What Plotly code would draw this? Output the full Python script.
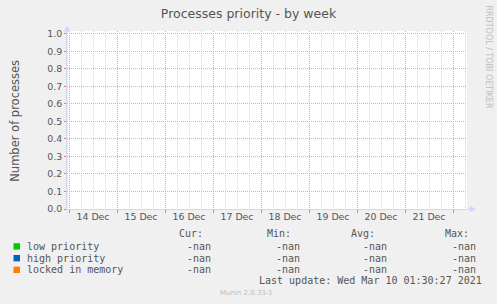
import plotly.graph_objects as go
import pandas as pd

# ---- data (all series are empty: -nan) ----
times = ["2020-12-14 00:00", "2020-12-15 00:00", "2020-12-16 00:00", "2020-12-17 00:00",
         "2020-12-18 00:00", "2020-12-19 00:00", "2020-12-20 00:00", "2020-12-21 00:00"]
low_priority = [None, None, None, None, None, None, None, None]
high_priority = [None, None, None, None, None, None, None, None]
locked_in_memory = [None, None, None, None, None, None, None, None]
series_names = ["low priority", "high priority", "locked in memory"]
series_colors = ["#00cc00", "#0066b3", "#ff8000"]
series_values = [low_priority, high_priority, locked_in_memory]
stats_cur = ["-nan", "-nan", "-nan"]
stats_min = ["-nan", "-nan", "-nan"]
stats_avg = ["-nan", "-nan", "-nan"]
stats_max = ["-nan", "-nan", "-nan"]
day_labels = ["14 Dec", "15 Dec", "16 Dec", "17 Dec", "18 Dec", "19 Dec", "20 Dec", "21 Dec"]
x_range = ["2020-12-13 23:00", "2020-12-22 07:00"]
y_range = [0, 1.016]
title = "Processes priority - by week"
y_title = "Number of processes"
last_update = "Last update: Wed Mar 10 01:30:27 2021"

W, H = 497, 304
L, R, T, B = 67, 30, 30.5, 95
PW, PH = W - L - R, H - T - B


def px(x):
    return (x - L) / PW


def py(y):
    return 1 - (y - T) / PH


TXT = "#555555"
SANS = "DejaVu Sans"
MONO = "DejaVu Sans Mono"
MGRID = "#ff9c9c"
GRID = "#d4d4d4"
AXIS = "#cfd6f8"

days = pd.to_datetime(times + ["2020-12-22 00:00"])
major_vals = [d.strftime("%Y-%m-%d %H:%M") for d in days]
minor_vals = [(d + pd.Timedelta(hours=h)).strftime("%Y-%m-%d %H:%M")
              for d in pd.to_datetime(["2020-12-13"]).append(days) for h in (6, 12, 18)]
label_vals = [(d + pd.Timedelta(hours=12)).strftime("%Y-%m-%d %H:%M") for d in pd.to_datetime(times)]

fig = go.Figure()
for name, col, vals in zip(series_names, series_colors, series_values):
    fig.add_trace(go.Scatter(x=times, y=vals, name=name, mode="lines",
                             line=dict(color=col, width=1), showlegend=False))
# invisible trace bound to the label axis
fig.add_trace(go.Scatter(x=times, y=low_priority, xaxis="x2", mode="lines",
                         showlegend=False, hoverinfo="skip"))

fig.update_layout(
    width=W, height=H,
    margin=dict(l=L, r=R, t=T, b=B, pad=0),
    paper_bgcolor="#f0f0f0", plot_bgcolor="#ffffff",
    showlegend=False,
    title=dict(text=title, x=0.5, xref="container", xanchor="center",
               y=1 - 14 / H, yref="container", yanchor="middle",
               font=dict(family=SANS, size=12.5, color=TXT)),
    xaxis=dict(
        type="date", range=x_range,
        tickmode="array", tickvals=major_vals, showticklabels=False,
        showgrid=True, gridcolor=MGRID, griddash="1px,1px", gridwidth=1,
        minor=dict(tickmode="array", tickvals=minor_vals, showgrid=True,
                   gridcolor=GRID, griddash="1px,1px", gridwidth=1),
        ticks="outside", ticklen=3, tickcolor="#ff7070", tickwidth=1,
        showline=True, linecolor=AXIS, linewidth=1, zeroline=False,
    ),
    xaxis2=dict(
        type="date", range=x_range, overlaying="x", anchor="y", side="bottom",
        tickmode="array", tickvals=label_vals, ticktext=day_labels,
        showgrid=False, ticks="", showline=False, zeroline=False,
        ticklabelstandoff=1,
        tickfont=dict(family=SANS, size=9.4, color=TXT),
    ),
    yaxis=dict(
        range=y_range, dtick=0.1, tick0=0, tickformat=".1f",
        showgrid=True, gridcolor=MGRID, griddash="1px,1px", gridwidth=1,
        ticks="outside", ticklen=2, tickcolor="#ff7070", tickwidth=1,
        showline=True, linecolor=AXIS, linewidth=1, zeroline=False,
        tickfont=dict(family=SANS, size=9.4, color=TXT),
    ),
)

# axis arrows
shapes = []
shapes.append(dict(type="path", xref="paper", yref="paper",
                   path=f"M {px(64)} {py(31)} L {px(70)} {py(31)} L {px(67)} {py(25)} Z",
                   fillcolor=AXIS, line=dict(width=0)))
shapes.append(dict(type="line", xref="paper", yref="paper",
                   x0=px(67), x1=px(67), y0=py(31), y1=py(209), line=dict(color=AXIS, width=1)))
shapes.append(dict(type="line", xref="paper", yref="paper",
                   x0=px(467), x1=px(470), y0=py(209), y1=py(209), line=dict(color=AXIS, width=1)))
shapes.append(dict(type="path", xref="paper", yref="paper",
                   path=f"M {px(470)} {py(206)} L {px(470)} {py(212)} L {px(476)} {py(209)} Z",
                   fillcolor=AXIS, line=dict(width=0)))

ann = []
ann.append(dict(text=y_title, textangle=-90, x=px(15), y=py(120.5), xref="paper", yref="paper",
                showarrow=False, xanchor="center", yanchor="middle", borderpad=0,
                font=dict(family=SANS, size=11.5, color=TXT)))
ann.append(dict(text="RRDTOOL / TOBI OETIKER", textangle=90, x=px(488.5), y=py(56.5),
                xref="paper", yref="paper", showarrow=False, xanchor="center", yanchor="middle",
                borderpad=0, font=dict(family=SANS, size=8, color="#bdbdbd")))

row_y = [246.5, 258.3, 270.0]
header_y = 233.3
for txt, xr in zip(["Cur:", "Min:", "Avg:", "Max:"], [204, 292, 375.5, 470]):
    ann.append(dict(text=txt, x=px(xr), y=py(header_y), xref="paper", yref="paper",
                    showarrow=False, xanchor="right", yanchor="middle", borderpad=0,
                    font=dict(family=MONO, size=10, color=TXT)))
for i, name in enumerate(series_names):
    yy = row_y[i]
    shapes.append(dict(type="rect", xref="paper", yref="paper",
                       x0=px(13.5), x1=px(20), y0=py(yy - 3.2), y1=py(yy + 3.2),
                       fillcolor=series_colors[i], line=dict(width=0)))
    ann.append(dict(text=name, x=px(25.5), y=py(yy), xref="paper", yref="paper",
                    showarrow=False, xanchor="left", yanchor="middle", borderpad=0,
                    font=dict(family=MONO, size=10, color=TXT)))
    for vals, xr in zip([stats_cur, stats_min, stats_avg, stats_max], [211.5, 301, 388, 477]):
        ann.append(dict(text=vals[i], x=px(xr), y=py(yy), xref="paper", yref="paper",
                        showarrow=False, xanchor="right", yanchor="middle", borderpad=0,
                        font=dict(family=MONO, size=10, color=TXT)))
ann.append(dict(text=last_update, x=px(482.5), y=py(280.5), xref="paper", yref="paper",
                showarrow=False, xanchor="right", yanchor="middle", borderpad=0,
                font=dict(family=MONO, size=10, color=TXT)))
ann.append(dict(text="Munin 2.0.33-1", x=px(218.5), y=py(293.5), xref="paper", yref="paper",
                showarrow=False, xanchor="left", yanchor="middle", borderpad=0,
                font=dict(family=SANS, size=7, color="#bdbdbd")))

fig.update_layout(shapes=shapes, annotations=ann)
fig.write_html("out.html")
